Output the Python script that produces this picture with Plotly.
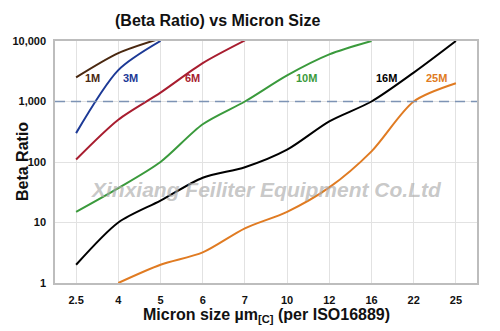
import plotly.graph_objects as go

sizes = ["2.5", "4", "5", "6", "7", "10", "12", "16", "22", "25"]
beta_1m = [2500, 6300, 11000, None, None, None, None, None, None, None]
beta_3m = [300, 3300, 10000, None, None, None, None, None, None, None]
beta_6m = [110, 500, 1400, 4300, 10200, None, None, None, None, None]
beta_10m = [15, 37, 100, 420, 1000, 2700, 6000, 10000, None, None]
beta_16m = [2, 10, 23, 55, 82, 160, 470, 1000, 3000, 10000]
beta_25m = [None, 1, 2, 3.2, 8, 15, 38, 150, 1000, 2000]

series = [
    ("1M", beta_1m, "#4a2810", 0.38),
    ("3M", beta_3m, "#1c3996", 1.28),
    ("6M", beta_6m, "#a81d2f", 2.77),
    ("10M", beta_10m, "#3a9a3c", 5.45),
    ("16M", beta_16m, "#000000", 7.35),
    ("25M", beta_25m, "#e07b22", 8.55),
]

ytick_vals = [1, 10, 100, 1000, 10000]
ytick_text = ["1", "10", "100", "1,000", "10,000"]

fig = go.Figure()
for name, vals, color, lx in series:
    fig.add_trace(go.Scatter(
        x=sizes, y=vals, mode="lines", name=name,
        line=dict(color=color, width=2, shape="spline", smoothing=0.8),
        connectgaps=False, showlegend=False, hoverinfo="skip"))
    fig.add_annotation(x=lx, y=3.39, xref="x", yref="y", text="<b>%s</b>" % name,
                       showarrow=False, font=dict(family="Liberation Sans", size=11, color=color))

fig.add_shape(type="line", xref="paper", x0=0, x1=1, yref="y", y0=1000, y1=1000,
              line=dict(color="#7d93b4", width=1.5, dash="10px,6px"), layer="above")

fig.add_annotation(x=0.385, y=1.0, xref="paper", yref="paper", yanchor="bottom",
                   xanchor="center", yshift=10,
                   text="<b>(Beta Ratio) vs Micron Size</b>", showarrow=False,
                   font=dict(family="Liberation Sans", size=16, color="#111111"))
fig.add_annotation(x=0.50, y=0, xref="paper", yref="paper", yanchor="top",
                   xanchor="center", yshift=-21,
                   text="<b>Micron size µm<sub>[C]</sub> (per ISO16889)</b>", showarrow=False,
                   font=dict(family="Liberation Sans", size=16, color="#111111"))
fig.add_annotation(x=0, y=0.5, xref="paper", yref="paper", xanchor="center",
                   xshift=-33, textangle=-90,
                   text="<b>Beta Ratio</b>", showarrow=False,
                   font=dict(family="Liberation Sans", size=16, color="#111111"))
fig.add_annotation(x=0.5, y=0.385, xref="paper", yref="paper",
                   text="<b><i>Xinxiang Feiliter Equipment Co.Ltd</i></b>", showarrow=False,
                   font=dict(family="Liberation Sans", size=21, color="rgba(170,170,170,0.65)"))

fig.update_layout(
    width=500, height=331,
    margin=dict(l=55, r=23, t=41, b=48),
    paper_bgcolor="white", plot_bgcolor="white",
    font=dict(family="Liberation Sans", color="#111111"),
)
fig.update_xaxes(type="category", range=[-0.5, 9.5], showgrid=True, gridcolor="#e2e2e2",
                 gridwidth=1, showline=True, linecolor="#bdbdbd", linewidth=1.5, mirror=True,
                 ticks="", tickfont=dict(size=11, family="Liberation Sans", weight="bold"),
                 ticklabelstandoff=6)
fig.update_yaxes(type="log", range=[0, 4], tickvals=ytick_vals, ticktext=ytick_text,
                 showgrid=True, gridcolor="#e2e2e2", gridwidth=1, showline=True,
                 linecolor="#bdbdbd", linewidth=1.5, mirror=True, ticks="",
                 tickfont=dict(size=11, family="Liberation Sans", weight="bold"),
                 ticklabelstandoff=5)

fig.write_html("out.html")
